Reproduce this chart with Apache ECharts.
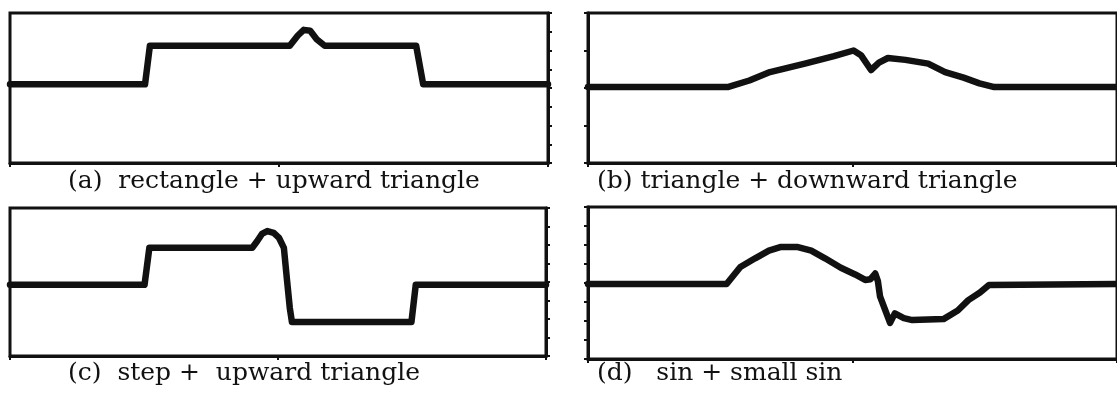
<!DOCTYPE html>
<html>
<head>
<meta charset="utf-8" />
<title>signal shapes</title>
<script src="https://cdn.jsdelivr.net/npm/echarts@6/dist/echarts.min.js"></script>
<style>
  html, body { margin: 0; padding: 0; background: #fff; }
  #chart { width: 1117px; height: 393px; }
</style>
</head>
<body>
<div id="chart"></div>
<script>
// (a) rectangle + upward triangle
const rectX = [0, 25.1, 26.0, 52.0, 53.5, 54.6, 55.8, 57.0, 58.5, 75.5, 76.8, 100];
const rectY = [4.2, 4.2, 6.25, 6.25, 6.8, 7.1, 7.05, 6.6, 6.25, 6.25, 4.2, 4.2];

// (b) triangle + downward triangle
const triX = [0, 26.4, 30.5, 34.4, 41, 46.5, 50.2, 51.6, 53.5, 55, 56.7, 60, 64.3, 67.5, 71, 74, 76.8, 100];
const triY = [4.05, 4.05, 4.4, 4.85, 5.3, 5.7, 6.0, 5.75, 4.96, 5.35, 5.6, 5.5, 5.3, 4.85, 4.55, 4.25, 4.05, 4.05];

// (c) step + upward triangle
const stepX = [0, 25.1, 26.0, 45.2, 46.1, 47.0, 48.0, 49.2, 50.2, 51.1, 51.7, 52.2, 52.6, 74.9, 75.7, 100];
const stepY = [3.85, 3.85, 5.85, 5.85, 6.2, 6.6, 6.75, 6.65, 6.38, 5.84, 4.05, 2.6, 1.84, 1.84, 3.85, 3.85];

// (d) sin + small sin
const sinX = [0, 26.2, 28.8, 31.6, 34.2, 36.5, 39.5, 42.2, 44.8, 47.8, 50.5, 52.4, 53.4, 54.3, 54.8, 55.2, 57.1, 58.0, 59.7, 61.3, 67.2, 69.9, 71.9, 74.1, 75.8, 100];
const sinY = [3.95, 3.95, 4.84, 5.3, 5.7, 5.9, 5.9, 5.7, 5.3, 4.8, 4.45, 4.16, 4.2, 4.5, 4.1, 3.3, 1.9, 2.4, 2.15, 2.05, 2.1, 2.55, 3.1, 3.5, 3.9, 3.95];

const captions = [
  "(a)  rectangle + upward triangle",
  "(b) triangle + downward triangle",
  "(c)  step +  upward triangle",
  "(d)   sin + small sin",
];

const INK = "#111";
const toPairs = (xs, ys) => xs.map((x, i) => [x, ys[i]]);

const grids = [
  { left: 10, top: 13, width: 538, height: 150 },
  { left: 588, top: 13, width: 538, height: 150 },
  { left: 10, top: 208, width: 536, height: 148 },
  { left: 588, top: 207, width: 538, height: 152 },
].map((g) => ({ ...g, show: true, borderColor: INK, borderWidth: 3, containLabel: false }));

const tick = { show: true, inside: false, length: 4, lineStyle: { color: INK, width: 2 } };

const xAxes = grids.map((g, i) => ({
  gridIndex: i,
  type: "value",
  min: 0,
  max: 100,
  interval: 50,
  axisLine: { show: true, onZero: false, lineStyle: { color: INK, width: 3 } },
  axisTick: tick,
  axisLabel: { show: false },
  splitLine: { show: false },
}));

// left panels carry ticks on the right side, right panels on the left side
const ySides = ["right", "left", "right", "left"];
const ySteps = [1, 2, 1, 1];
const yAxes = grids.map((g, i) => ({
  gridIndex: i,
  type: "value",
  position: ySides[i],
  min: 0,
  max: 8,
  interval: ySteps[i],
  axisLine: { show: true, onZero: false, lineStyle: { color: INK, width: 3 } },
  axisTick: tick,
  axisLabel: { show: false },
  splitLine: { show: false },
}));

const seriesData = [
  toPairs(rectX, rectY),
  toPairs(triX, triY),
  toPairs(stepX, stepY),
  toPairs(sinX, sinY),
];

const series = seriesData.map((d, i) => ({
  type: "line",
  xAxisIndex: i,
  yAxisIndex: i,
  data: d,
  showSymbol: false,
  silent: true,
  lineStyle: { color: INK, width: 6.5, cap: "round", join: "round" },
}));

const captionPos = [
  { left: 68, top: 169 },
  { left: 597, top: 169 },
  { left: 68, top: 361 },
  { left: 597, top: 361 },
];

const titles = captions.map((t, i) => ({
  text: t,
  ...captionPos[i],
  padding: 0,
  textStyle: {
    fontFamily: "DejaVu Serif",
    fontWeight: "normal",
    fontSize: 25,
    color: INK,
  },
}));

const option = {
  animation: false,
  backgroundColor: "#fff",
  title: titles,
  grid: grids,
  xAxis: xAxes,
  yAxis: yAxes,
  series: series,
};

const chart = echarts.init(document.getElementById("chart"));
chart.setOption(option);
window.addEventListener("resize", () => chart.resize());
</script>
</body>
</html>
